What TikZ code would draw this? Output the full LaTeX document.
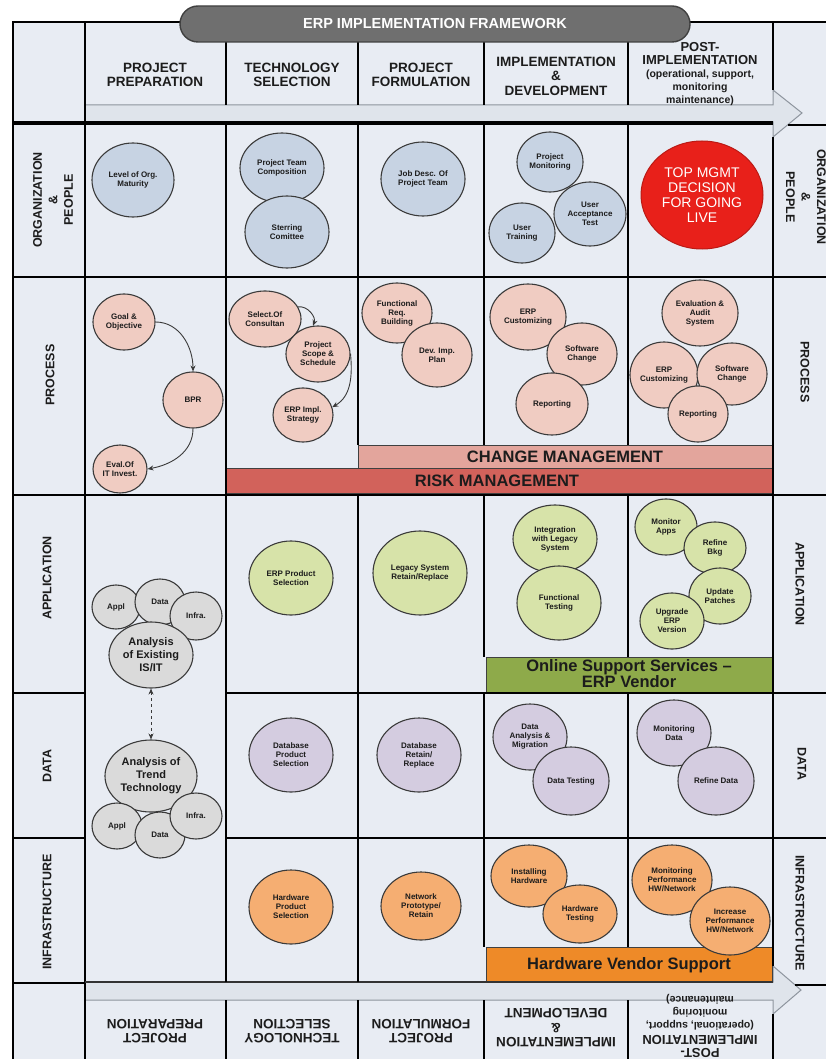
\documentclass[tikz,border=0pt]{standalone}
\usepackage{fontspec}
\setmainfont{Liberation Sans}
\usetikzlibrary{shapes.geometric,arrows.meta}
\definecolor{cellbg}{HTML}{E8ECF3}
\definecolor{bandbg}{HTML}{DFE4EB}
\definecolor{bandln}{HTML}{8E959E}
\definecolor{orgc}{HTML}{C7D3E3}
\definecolor{procc}{HTML}{F0CCC2}
\definecolor{appc}{HTML}{D7E3A9}
\definecolor{datac}{HTML}{D4CCE0}
\definecolor{infrac}{HTML}{F5AE72}
\definecolor{grayc}{HTML}{DADADA}
\definecolor{redc}{HTML}{E8201A}
\definecolor{chgc}{HTML}{E3A59C}
\definecolor{riskc}{HTML}{D2625B}
\definecolor{onlinec}{HTML}{8EAA4A}
\definecolor{hwvc}{HTML}{EE8A28}
\definecolor{pillc}{HTML}{6F6F6F}
\definecolor{txtdark}{HTML}{1C1C1C}
\definecolor{bubline}{HTML}{3A3A3A}
\newcommand{\smhdr}{\fontsize{10.5}{12.8}\selectfont}
\begin{document}
\begin{tikzpicture}[x=1pt,y=-1pt,
  grid/.style={line width=2.6pt,black},
  sz/.style 2 args={minimum width=#1pt,minimum height=#2pt},
  bub/.style={ellipse,draw=bubline,line width=1.1pt,inner sep=0pt,align=center,
    font=\fontsize{8}{9}\selectfont\bfseries,text=txtdark},
  big/.style={font=\fontsize{11}{13}\selectfont\bfseries},
  hdr/.style={align=center,font=\fontsize{13.5}{14.5}\selectfont\bfseries,text=txtdark},
  posthdr/.style={align=center,font=\fontsize{13}{12.8}\selectfont\bfseries,text=txtdark},
  rowlab/.style={align=center,font=\fontsize{12.5}{15.5}\selectfont\bfseries,text=txtdark},
  barbox/.style={draw=black!75,line width=0.9pt},
  barlab/.style={align=center,font=\fontsize{16.5}{16}\selectfont\bfseries,text=txtdark},
  flow/.style={-{Stealth[length=6pt,width=5pt]},line width=0.9pt,draw=bubline},
]
\useasboundingbox (0,0) rectangle (826,1059);
\clip (0,0) rectangle (826,1059);
% background
\fill[cellbg] (13,22) rectangle (826,1059);
% bands with chevrons
\filldraw[fill=bandbg,draw=bandln,line width=1pt]
  (85,105) -- (773,105) -- (773,90) -- (802,113) -- (773,137) -- (773,122) -- (85,122) -- cycle;
\filldraw[fill=bandbg,draw=bandln,line width=1pt]
  (85,1000) -- (773,1000) -- (773,1014) -- (801,990) -- (773,966) -- (773,982) -- (85,982) -- cycle;
% bars
\filldraw[barbox,fill=chgc] (358,445) rectangle (772,468);
\filldraw[barbox,fill=riskc] (226,468) rectangle (772,493);
\filldraw[barbox,fill=onlinec] (486,657) rectangle (772,692);
\filldraw[barbox,fill=hwvc] (486,947) rectangle (772,982);
\node[barlab] (chg) at (565,457) {CHANGE MANAGEMENT};
\node[barlab] (risk) at (497,481) {RISK MANAGEMENT};
\node[barlab] (online) at (629,674) {Online Support Services --\\ERP Vendor};
\node[barlab] (hwv) at (629,965) {Hardware Vendor Support};
% frame and grid
\draw[grid] (826,22) -- (13,22) -- (13,1059);
\draw[grid] (85,22) -- (85,1059);
\draw[line width=4.5pt] (13,123) -- (773,123);
\draw[grid] (13,277) -- (826,277);
\draw[grid] (13,495) -- (826,495);
\draw[grid] (13,693) -- (85,693);
\draw[grid] (226,693) -- (826,693);
\draw[grid] (13,838) -- (85,838);
\draw[grid] (226,838) -- (826,838);
\draw[grid] (13,983) -- (85,983);
\draw[line width=1.5pt,black!80] (85,982) -- (773,982);
\draw[grid] (788,125) -- (826,125);
\draw[grid] (795,985) -- (826,985);
\foreach \x in {226,358,484,628} {
  \draw[grid] (\x,22) -- (\x,105);
  \draw[grid] (\x,1000) -- (\x,1059);
}
\draw[grid] (226,123) -- (226,982);
\draw[grid] (358,123) -- (358,445);
\draw[grid] (358,495) -- (358,982);
\foreach \x in {484,628} {
  \draw[grid] (\x,123) -- (\x,445);
  \draw[grid] (\x,495) -- (\x,657);
  \draw[grid] (\x,692) -- (\x,947);
}
\draw[grid] (773,22) -- (773,90);
\draw[grid] (773,137) -- (773,966);
\draw[grid] (773,1014) -- (773,1059);
% title pill
\node[rounded corners=18pt,fill=pillc,draw=black!75,line width=1.4pt,
  minimum width=510pt,minimum height=36pt,text=white,
  font=\fontsize{14.5}{15}\selectfont\bfseries] (title) at (435,24) {ERP IMPLEMENTATION FRAMEWORK};
% headers top
\node[hdr] (h1) at (155,75) {PROJECT\\PREPARATION};
\node[hdr] (h2) at (292,75) {TECHNOLOGY\\SELECTION};
\node[hdr] (h3) at (421,75) {PROJECT\\FORMULATION};
\node[hdr] (h4) at (556,76) {IMPLEMENTATION\\\&\\DEVELOPMENT};
\node[posthdr] (h5) at (700,74)
  {POST-\\IMPLEMENTATION\\\smhdr(operational, support,\\\smhdr monitoring\\\smhdr maintenance)};
% headers bottom (upside down)
\node[hdr,rotate=180] (b1) at (155,1031) {PROJECT\\PREPARATION};
\node[hdr,rotate=180] (b2) at (292,1031) {TECHNOLOGY\\SELECTION};
\node[hdr,rotate=180] (b3) at (421,1031) {PROJECT\\FORMULATION};
\node[hdr,rotate=180] (b4) at (556,1028) {IMPLEMENTATION\\\&\\DEVELOPMENT};
\node[posthdr,rotate=180] (b5) at (700,1026)
  {POST-\\IMPLEMENTATION\\\smhdr(operational, support,\\\smhdr monitoring\\\smhdr maintenance)};
% row labels
\node[rowlab,rotate=90] (l1) at (53,200) {ORGANIZATION\\\&\\PEOPLE};
\node[rowlab,rotate=90] (l2) at (50,375) {PROCESS};
\node[rowlab,rotate=90] (l3) at (47,578) {APPLICATION};
\node[rowlab,rotate=90] (l4) at (47,766) {DATA};
\node[rowlab,rotate=90] (l5) at (47,912) {INFRASTRUCTURE};
\node[rowlab,rotate=-90] (r1) at (806,197) {ORGANIZATION\\\&\\PEOPLE};
\node[rowlab,rotate=-90] (r2) at (805,372) {PROCESS};
\node[rowlab,rotate=-90] (r3) at (800,584) {APPLICATION};
\node[rowlab,rotate=-90] (r4) at (802,764) {DATA};
\node[rowlab,rotate=-90] (r5) at (800,913) {INFRASTRUCTURE};
% organization & people
\node[bub,fill=orgc,sz={82}{74}] (lvl) at (133,180) {Level of Org.\\Maturity};
\node[bub,fill=orgc,sz={84}{70}] (ptc) at (282,168) {Project Team\\Composition};
\node[bub,fill=orgc,sz={84}{72}] (stc) at (287,232) {Sterring\\Comittee};
\node[bub,fill=orgc,sz={84}{74}] (jd) at (423,179) {Job Desc. Of\\Project Team};
\node[bub,fill=orgc,sz={66}{60}] (pm) at (550,162) {Project\\Monitoring};
\node[bub,fill=orgc,sz={72}{64}] (uat) at (590,214) {User\\Acceptance\\Test};
\node[bub,fill=orgc,sz={66}{60}] (ut) at (522,233) {User\\Training};
\node[ellipse,fill=redc,draw=redc!80!black,line width=1pt,sz={122}{108},inner sep=0pt,
  align=center,text=white,font=\fontsize{14}{15}\selectfont] (top) at (702,195) {TOP MGMT\\DECISION\\FOR GOING\\LIVE};
% process
\node[bub,fill=procc,sz={62}{56}] (goal) at (124,322) {Goal \&\\Objective};
\node[bub,fill=procc,sz={60}{56}] (bpr) at (193,400) {BPR};
\node[bub,fill=procc,sz={54}{48}] (eval) at (120,469) {Eval.Of\\IT Invest.};
\node[bub,fill=procc,sz={72}{56}] (sel) at (265,319) {Select.Of\\Consultan};
\node[bub,fill=procc,sz={64}{56}] (scope) at (318,354) {Project\\Scope \&\\Schedule};
\node[bub,fill=procc,sz={60}{54}] (impl) at (303,415) {ERP Impl.\\Strategy};
\node[bub,fill=procc,sz={70}{60}] (freq) at (397,313) {Functional\\Req.\\Building};
\node[bub,fill=procc,sz={70}{64}] (dip) at (437,355) {Dev. Imp.\\Plan};
\node[bub,fill=procc,sz={76}{66}] (ec4) at (528,317) {ERP\\Customizing};
\node[bub,fill=procc,sz={70}{62}] (sc4) at (582,354) {Software\\Change};
\node[bub,fill=procc,sz={72}{62}] (rp4) at (552,404) {Reporting};
\node[bub,fill=procc,sz={76}{66}] (eas) at (700,313) {Evaluation \&\\Audit\\System};
\node[bub,fill=procc,sz={68}{66}] (ec5) at (664,375) {ERP\\Customizing};
\node[bub,fill=procc,sz={70}{62}] (sc5) at (732,374) {Software\\Change};
\node[bub,fill=procc,sz={60}{56}] (rp5) at (698,414) {Reporting};
\draw[flow] (goal.east) to[out=0,in=90] (bpr.north);
\draw[flow] (bpr.south) to[out=-90,in=10] (eval.east);
\draw[flow] (sel.20) to[out=10,in=70] (scope.100);
\draw[flow] (scope.east) to[out=-85,in=30] (impl.15);
% application
\node[bub,fill=grayc,sz={48}{44}] (appl1) at (116,607) {Appl};
\node[bub,fill=grayc,sz={50}{46}] (data1) at (160,602) {Data};
\node[bub,fill=grayc,sz={52}{48}] (infra1) at (196,616) {Infra.};
\node[bub,big,fill=grayc,sz={84}{66}] (exist) at (151,655) {Analysis\\of Existing\\IS/IT};
\node[bub,fill=appc,sz={84}{74}] (eps) at (291,578) {ERP Product\\Selection};
\node[bub,fill=appc,sz={94}{84}] (lsr) at (420,573) {Legacy System\\Retain/Replace};
\node[bub,fill=appc,sz={84}{68}] (iwl) at (555,539) {Integration\\with Legacy\\System};
\node[bub,fill=appc,sz={84}{74}] (ft) at (559,603) {Functional\\Testing};
\node[bub,fill=appc,sz={62}{56}] (ma) at (666,527) {Monitor\\Apps};
\node[bub,fill=appc,sz={62}{52}] (rb) at (715,548) {Refine\\Bkg};
\node[bub,fill=appc,sz={62}{56}] (up) at (720,596) {Update\\Patches};
\node[bub,fill=appc,sz={64}{56}] (ue) at (672,621) {Upgrade\\ERP\\Version};
% data
\node[bub,big,fill=grayc,sz={92}{72}] (trend) at (151,776) {Analysis of\\Trend\\Technology};
\node[bub,fill=grayc,sz={50}{46}] (appl2) at (117,826) {Appl};
\node[bub,fill=grayc,sz={50}{46}] (data2) at (160,835) {Data};
\node[bub,fill=grayc,sz={52}{46}] (infra2) at (196,816) {Infra.};
\draw[{Stealth[length=6pt,width=5pt]}-{Stealth[length=6pt,width=5pt]},dashed,line width=0.9pt,draw=bubline]
  (exist.south) -- (trend.north);
\node[bub,fill=datac,sz={84}{74}] (dps) at (291,755) {Database\\Product\\Selection};
\node[bub,fill=datac,sz={84}{74}] (drr) at (419,755) {Database\\Retain/\\Replace};
\node[bub,fill=datac,sz={74}{66}] (dam) at (530,737) {Data\\Analysis \&\\Migration};
\node[bub,fill=datac,sz={76}{68}] (dt) at (571,781) {Data Testing};
\node[bub,fill=datac,sz={74}{66}] (md) at (674,733) {Monitoring\\Data};
\node[bub,fill=datac,sz={76}{68}] (rd) at (716,781) {Refine Data};
% infrastructure
\node[bub,fill=infrac,sz={84}{74}] (hps) at (291,907) {Hardware\\Product\\Selection};
\node[bub,fill=infrac,sz={80}{68}] (npr) at (421,906) {Network\\Prototype/\\Retain};
\node[bub,fill=infrac,sz={76}{62}] (ih) at (529,876) {Installing\\Hardware};
\node[bub,fill=infrac,sz={74}{58}] (ht) at (580,914) {Hardware\\Testing};
\node[bub,fill=infrac,sz={80}{70}] (mph) at (672,880) {Monitoring\\Performance\\HW/Network};
\node[bub,fill=infrac,sz={80}{68}] (iph) at (730,921) {Increase\\Performance\\HW/Network};
\end{tikzpicture}
\end{document}
